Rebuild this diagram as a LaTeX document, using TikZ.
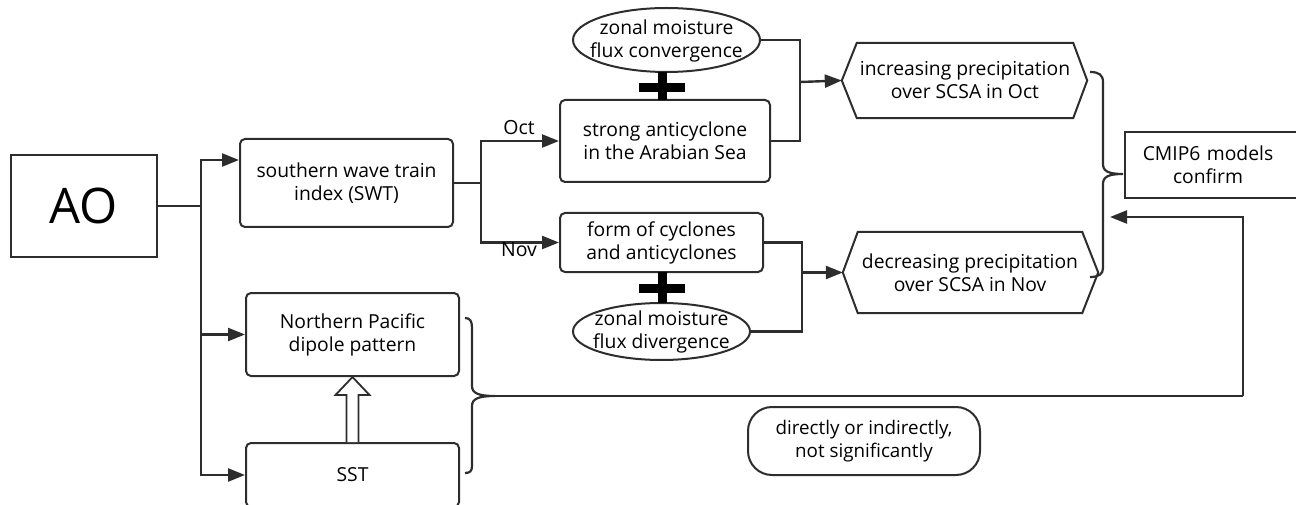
\documentclass[tikz,border=0pt]{standalone}
\usepackage{fontspec}
\setmainfont{Open Sans}
\usetikzlibrary{arrows.meta,shapes.geometric,calc}
\definecolor{lc}{RGB}{45,45,45}
\begin{document}
\begin{tikzpicture}[x=1pt,y=-1pt,
  txt/.style={align=center,font=\fontsize{19.3}{23}\selectfont,text=black,inner sep=0pt},
  rbox/.style={txt,draw=lc,line width=2pt,rounded corners=5pt},
  sbox/.style={txt,draw=lc,line width=2pt},
  ell/.style={draw=lc,line width=2pt,ellipse,inner sep=0pt},
  hex/.style={draw=lc,line width=2pt,line join=miter},
  conn/.style={draw=lc,line width=2.4pt},
  arr/.style={conn,-{Triangle[length=17pt,width=13pt]}},
  plus/.style={draw=black,line width=9pt},
  brace/.style={draw=lc,line width=2.2pt}
]
\useasboundingbox (0,0) rectangle (1296,505);

% boxes
\node[sbox,minimum width=146pt,minimum height=102pt,font=\fontsize{49}{56}\selectfont] (AO) at (84,206) {AO};
\node[rbox,minimum width=213pt,minimum height=88pt] (SWT) at (346.5,183) {southern wave train\\index (SWT)};
\node[rbox,minimum width=213pt,minimum height=83pt] (NP) at (352.5,334.5) {Northern Pacific\\dipole pattern};
\node[rbox,minimum width=213pt,minimum height=64pt] (SST) at (352.5,475) {SST};
\node[rbox,minimum width=210pt,minimum height=82pt] (SA) at (665,141) {strong anticyclone\\in the Arabian Sea};
\node[rbox,minimum width=203pt,minimum height=59pt] (FC) at (661.5,242.5) {form of cyclones\\and anticyclones};
\node[sbox,minimum width=173pt,minimum height=66pt,text width=173pt] (CM) at (1211.5,165) {\hspace*{-7pt}CMIP6 models\\\hspace*{-7pt}confirm};
\node[txt,draw=lc,line width=2pt,rounded corners=24pt,minimum width=232pt,minimum height=68pt,font=\fontsize{18.8}{23}\selectfont] (DI) at (864,441) {directly or indirectly,\\not significantly};

% ellipses
\node[ell,minimum width=187pt,minimum height=64pt] (zc) at (666.5,40) {};
\node[txt] (zct) at (666.5,41) {zonal moisture\\flux convergence};
\node[ell,minimum width=177pt,minimum height=57pt] (zd) at (661.5,331.5) {};
\node[txt] (zdt) at (661.5,332) {zonal moisture\\flux divergence};

% hexagons
\node[txt,minimum width=216pt,minimum height=75pt] (inc) at (965,80.5) {increasing precipitation\\over SCSA in Oct};
\draw[hex] (inc.north west) -- (inc.north east) -- ([xshift=14pt]inc.east) -- (inc.south east) -- (inc.south west) -- ([xshift=-15pt]inc.west) -- cycle;
\coordinate (incW) at ([xshift=-15pt]inc.west);
\node[txt,minimum width=224pt,minimum height=81pt] (dec) at (970,272.5) {decreasing precipitation\\over SCSA in Nov};
\draw[hex] (dec.north west) -- (dec.north east) -- ([xshift=16pt]dec.east) -- (dec.south east) -- (dec.south west) -- ([xshift=-15pt]dec.west) -- cycle;
\coordinate (decW) at ([xshift=-15pt]dec.west);

% AO connectors
\coordinate (j1) at (201,206);
\draw[conn] (AO.east) -- (j1);
\draw[arr] (j1) |- ([yshift=23pt]SWT.west);
\draw[arr] (j1) |- (NP.west);
\draw[arr] (j1) |- (SST.west);

% SWT connectors
\coordinate (j2) at (481,183);
\draw[conn] (SWT.east) -- (j2);
\draw[arr] (j2) |- (SA.west);
\draw[arr] (j2) |- (FC.west);
\node[txt,font=\fontsize{19.5}{20}\selectfont] (oct) at (519,128) {Oct};
\node[txt,font=\fontsize{19.5}{20}\selectfont] (nov) at (519,250) {Nov};

% Oct merge
\coordinate (j3) at (800,82);
\draw[conn] (zc.east) -| (j3) |- (SA.east);
\draw[arr] (j3) -- (incW);
% Nov merge
\coordinate (j4) at (802,272.5);
\draw[conn] (FC.east) -| (j4) |- (zd.east);
\draw[arr] (j4) -- (decW);

% plus signs
\coordinate (p1) at (662,88);
\draw[plus] (662,72) -- (662,100);
\draw[plus] ([xshift=-23pt]p1) -- ([xshift=23pt]p1);
\coordinate (p2) at (662,288);
\draw[plus] (662,272) -- (662,303);
\draw[plus] ([xshift=-23pt]p2) -- ([xshift=23pt]p2);

% hollow arrow SST -> NP
\draw[draw=lc,line width=1.8pt,fill=white,line join=miter]
  ($(SST.north)+(-6,0)$) -- ($(NP.south)+(-6,18)$) -- ($(NP.south)+(-17,18)$) -- (NP.south)
  -- ($(NP.south)+(17,18)$) -- ($(NP.south)+(6,18)$) -- ($(SST.north)+(6,0)$);

% left brace
\draw[brace] (465,318) .. controls (470,318) and (472,321) .. (472,328) -- (472,386)
  .. controls (472,393) and (478,396) .. (495,396)
  .. controls (478,396) and (472,399) .. (472,406) -- (472,466)
  .. controls (472,471) and (470,473) .. (465,473);
\coordinate (bl) at (495,396);
\coordinate (cin) at (1110,217);
\coordinate (cc) at (1243,396);
\draw[conn] (bl) -- (cc);
\draw[arr] (cc) |- (cin);

% right brace
\draw[brace] (1090,72) .. controls (1099,72) and (1103,75) .. (1103,82) -- (1103,164)
  .. controls (1103,171) and (1108,174) .. (1123,174)
  .. controls (1108,174) and (1103,177) .. (1103,184) -- (1103,268)
  .. controls (1103,274) and (1099,277) .. (1090,277);
\end{tikzpicture}
\end{document}
